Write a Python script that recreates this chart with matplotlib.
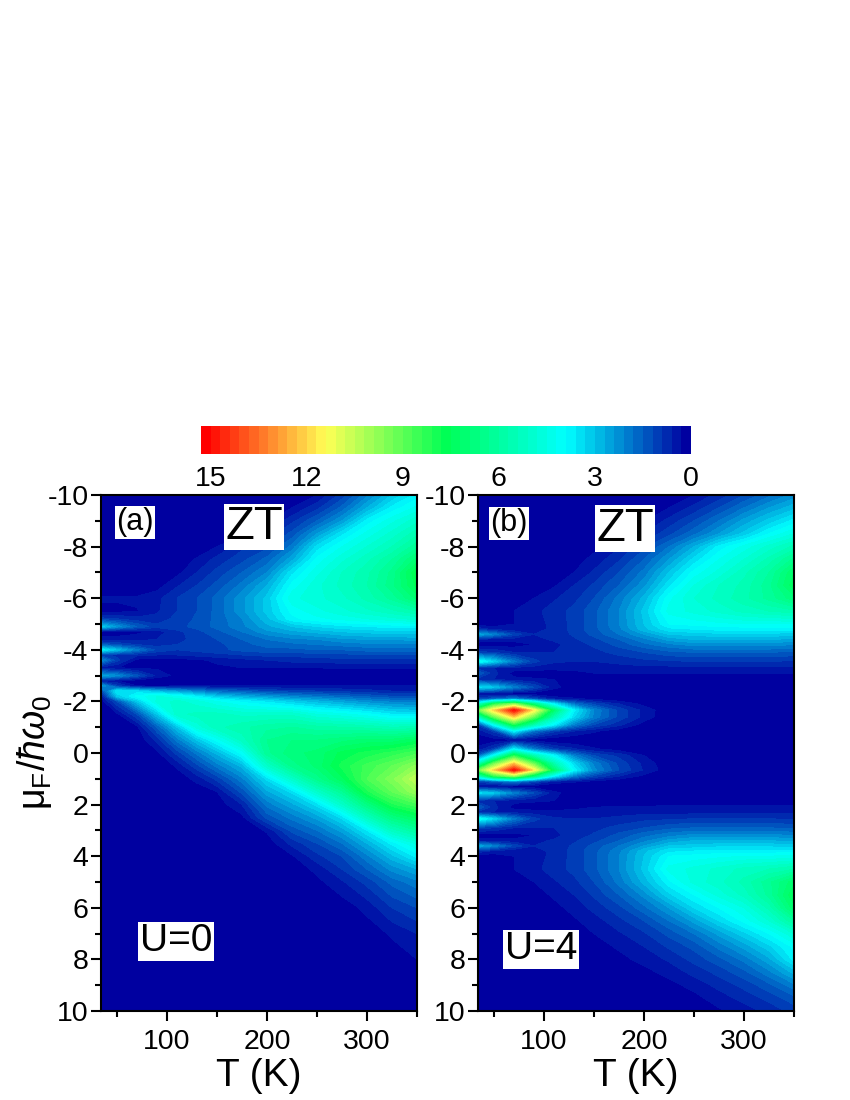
import numpy as np
import matplotlib
matplotlib.use('Agg')
import matplotlib.pyplot as plt
from matplotlib.colors import LinearSegmentedColormap, BoundaryNorm

plt.rcParams['font.family'] = ['Liberation Sans', 'DejaVu Sans']
plt.rcParams['axes.unicode_minus'] = False
plt.rcParams['mathtext.fontset'] = 'custom'
plt.rcParams['mathtext.rm'] = 'Liberation Sans'
plt.rcParams['mathtext.it'] = 'Liberation Sans:italic'

# values
temps = [34, 50, 70, 90, 110, 130, 150, 175, 200, 225, 250, 275, 300, 325, 350]

mu_a = [-10, -9.5, -9, -8.5, -8, -7.5, -7, -6.5, -6, -5.5, -5.2, -4.9, -4.7, -4.4, -4.2, -4, -3.8, -3.6, -3.3, -3,
        -2.8, -2.6, -2.4, -2.2, -2, -1.5, -1, -0.5, 0, 0.5, 1, 1.5, 2, 2.5, 3, 3.5, 4, 4.5, 5, 6, 7, 8, 9, 10]
zt_a = [
    [0, 0, 0, 0, 0, 0, 0, 0, 0, 0, .3, 1.0, 2.0, 3.0, 3.7],
    [0, 0, 0, 0, 0, 0, 0, 0, 0, .3, .8, 1.6, 2.7, 3.7, 4.3],
    [0, 0, 0, 0, 0, 0, 0, 0, .2, .8, 1.5, 2.4, 3.7, 4.4, 5.0],
    [0, 0, 0, 0, 0, 0, 0, .2, .7, 1.3, 2.4, 3.5, 4.3, 4.9, 5.6],
    [0, 0, 0, 0, 0, 0, .3, .8, 1.1, 1.9, 3.4, 4.2, 4.8, 5.4, 6.2],
    [0, 0, 0, 0, 0, .35, .7, 1.1, 1.6, 2.6, 4.0, 4.7, 5.3, 6.0, 7.0],
    [0, 0, 0, 0, .2, .6, 1.0, 1.5, 2.1, 3.5, 4.4, 5.1, 5.6, 6.4, 7.8],
    [0, 0, 0, .15, .55, .9, 1.3, 1.9, 2.7, 4.0, 4.7, 5.2, 5.7, 6.5, 7.6],
    [.35, .35, .35, .5, .9, 1.2, 1.6, 2.3, 3.1, 4.4, 4.7, 5.0, 5.5, 6.1, 7.0],
    [.2, .2, .28, .55, .9, 1.2, 1.6, 2.3, 3.1, 4.0, 4.4, 4.7, 5.0, 5.3, 5.7],
    [1.0, .9, .7, .7, 1.0, 1.25, 1.6, 2.1, 2.9, 3.8, 4.1, 4.3, 4.5, 4.7, 4.9],
    [3.2, 2.3, 1.5, 1.0, 1.1, 1.3, 1.6, 2.0, 2.6, 3.0, 3.3, 3.5, 3.6, 3.7, 3.7],
    [.2, .15, .2, .45, .8, 1.1, 1.4, 1.8, 2.3, 2.6, 2.8, 3.0, 3.1, 3.2, 3.2],
    [.35, .4, .5, .6, .8, 1.0, 1.2, 1.5, 1.8, 2.0, 2.1, 2.3, 2.4, 2.4, 2.5],
    [1.5, 1.2, .9, .8, .9, 1.0, 1.1, 1.4, 1.6, 1.7, 1.8, 1.9, 2.0, 2.0, 2.0],
    [3.8, 2.9, 1.9, 1.1, .9, 1.0, 1.1, 1.3, 1.4, 1.4, 1.5, 1.5, 1.6, 1.6, 1.6],
    [1.0, .8, .7, .6, .6, .7, .8, .9, 1.0, 1.0, 1.1, 1.1, 1.2, 1.2, 1.2],
    [2.2, 1.0, .2, .1, .15, .25, .35, .5, .6, .7, .7, .8, .8, .8, .8],
    [.4, .3, .25, .25, .25, .25, .25, .3, .3, .3, .3, .32, .32, .33, .33],
    [2.6, 2.2, 1.3, .5, .2, .05, .05, .05, .05, .05, .05, .05, .05, .05, .05],
    [.4, .3, .1, 0, 0, 0, 0, 0, 0, 0, 0, 0, 0, 0, 0],
    [2.5, 1.0, .3, .2, .3, .3, .3, .3, .3, .3, .3, .3, .3, .3, .3],
    [1.0, 3.6, 3.4, 2.8, 2.4, 2.0, 1.6, 1.4, 1.1, 1.0, .9, .8, .7, .6, .6],
    [.3, 3.0, 4.0, 4.5, 4.2, 3.6, 3.0, 2.6, 2.3, 2.0, 1.8, 1.6, 1.4, 1.2, 1.2],
    [.1, 1.2, 3.0, 4.6, 4.9, 4.6, 4.2, 3.8, 3.5, 3.1, 2.8, 2.5, 2.2, 2.0, 1.9],
    [0, .2, 1.2, 3.0, 5.0, 5.2, 5.2, 5.0, 5.0, 5.0, 4.5, 4.3, 4.0, 3.6, 3.5],
    [0, 0, .2, 1.5, 3.0, 4.6, 5.3, 5.6, 5.9, 6.0, 5.8, 5.7, 5.6, 5.4, 5.5],
    [0, 0, 0, .7, 1.9, 3.0, 4.0, 5.2, 6.3, 6.6, 6.6, 6.8, 7.0, 7.0, 7.4],
    [0, 0, 0, .2, 1.0, 1.9, 2.8, 4.0, 6.2, 6.8, 7.0, 7.6, 7.9, 8.2, 8.6],
    [0, 0, 0, 0, .35, 1.1, 1.9, 2.8, 5.0, 6.4, 7.0, 7.9, 8.5, 9.0, 9.7],
    [0, 0, 0, 0, .1, .4, 1.0, 2.0, 3.4, 5.0, 6.4, 7.4, 8.7, 9.5, 10.5],
    [0, 0, 0, 0, 0, .1, .3, 1.3, 2.6, 3.4, 5.0, 6.2, 8.0, 9.0, 9.9],
    [0, 0, 0, 0, 0, 0, .1, .6, 1.9, 2.6, 3.4, 5.0, 6.6, 8.0, 8.6],
    [0, 0, 0, 0, 0, 0, 0, .2, 1.3, 1.9, 2.5, 3.4, 5.2, 6.6, 7.3],
    [0, 0, 0, 0, 0, 0, 0, 0, .35, 1.3, 1.8, 2.5, 3.6, 5.2, 6.0],
    [0, 0, 0, 0, 0, 0, 0, 0, .1, .7, 1.2, 1.8, 2.7, 3.7, 4.6],
    [0, 0, 0, 0, 0, 0, 0, 0, 0, .25, .8, 1.2, 2.0, 2.9, 3.7],
    [0, 0, 0, 0, 0, 0, 0, 0, 0, .05, .4, .9, 1.5, 2.2, 2.7],
    [0, 0, 0, 0, 0, 0, 0, 0, 0, 0, .2, .55, 1.0, 1.6, 2.0],
    [0, 0, 0, 0, 0, 0, 0, 0, 0, 0, 0, .1, .4, .9, 1.2],
    [0, 0, 0, 0, 0, 0, 0, 0, 0, 0, 0, 0, .1, .35, .6],
    [0, 0, 0, 0, 0, 0, 0, 0, 0, 0, 0, 0, 0, .1, .3],
    [0, 0, 0, 0, 0, 0, 0, 0, 0, 0, 0, 0, 0, 0, .1],
    [0, 0, 0, 0, 0, 0, 0, 0, 0, 0, 0, 0, 0, 0, 0],
]

mu_b = [-10, -9.5, -9, -8.5, -8, -7.5, -7, -6.5, -6, -5.5, -5, -4.8, -4.6, -4.4, -4.2, -3.9, -3.55, -3.3, -3.1, -2.85,
        -2.55, -2.3, -2.1, -1.9, -1.66, -1.4, -1.1, -.85, -.5, -.15, .1, .4, .66, .9, 1.1, 1.3, 1.55, 1.85, 2.1, 2.3,
        2.55, 2.9, 3.2, 3.4, 3.6, 3.8, 4, 4.5, 5, 5.5, 6, 6.5, 7, 7.5, 8, 8.5, 9, 9.5, 10]
zt_b = [
    [0, 0, 0, 0, 0, 0, 0, 0, 0, 0, .3, .7, 1.2, 1.7, 2.2],
    [0, 0, 0, 0, 0, 0, 0, 0, 0, .3, .7, 1.2, 1.8, 2.4, 2.9],
    [0, 0, 0, 0, 0, 0, 0, 0, .25, .7, 1.2, 1.8, 2.5, 3.1, 3.7],
    [0, 0, 0, 0, 0, 0, 0, .2, .6, 1.1, 1.7, 2.4, 3.1, 3.9, 4.5],
    [0, 0, 0, 0, 0, 0, .2, .55, 1.1, 1.8, 2.7, 3.7, 4.3, 4.9, 5.5],
    [0, 0, 0, 0, 0, .15, .4, .85, 1.5, 2.4, 3.4, 4.2, 4.8, 5.5, 6.4],
    [0, 0, 0, 0, .1, .3, .65, 1.2, 1.9, 3.0, 4.0, 4.6, 5.3, 6.0, 7.2],
    [0, 0, 0, .1, .25, .6, .95, 1.5, 2.3, 3.5, 4.5, 5.1, 5.5, 6.2, 7.4],
    [0, 0, .1, .3, .55, .8, 1.2, 1.9, 2.8, 4.1, 4.8, 5.2, 5.6, 6.1, 6.8],
    [0, 0, .3, .5, .75, 1.0, 1.4, 2.1, 3.1, 4.3, 4.6, 4.9, 5.2, 5.4, 5.6],
    [.1, .1, .3, .45, .7, 1.0, 1.4, 2.1, 3.0, 3.9, 4.0, 4.1, 4.2, 4.2, 4.2],
    [.8, .5, .35, .45, .7, 1.0, 1.4, 2.0, 2.9, 3.5, 3.6, 3.7, 3.7, 3.7, 3.7],
    [2.6, 2.0, 1.1, .6, .7, .95, 1.3, 1.8, 2.4, 3.0, 3.1, 3.2, 3.2, 3.2, 3.1],
    [.5, .4, .4, .5, .65, .85, 1.1, 1.5, 2.0, 2.5, 2.7, 2.7, 2.7, 2.7, 2.6],
    [.1, .1, .15, .3, .5, .75, .95, 1.3, 1.7, 2.0, 2.2, 2.2, 2.2, 2.2, 2.1],
    [1.0, .9, .6, .6, .6, .7, .8, 1.0, 1.2, 1.4, 1.5, 1.5, 1.5, 1.5, 1.4],
    [4.2, 3.2, 1.9, 1.0, .65, .6, .6, .7, .8, .85, .9, .9, .9, .9, .85],
    [.7, .6, .5, .45, .4, .4, .4, .45, .5, .5, .5, .55, .55, .55, .55],
    [1.5, .7, .15, .1, .15, .2, .3, .32, .35, .35, .35, .35, .35, .35, .35],
    [.7, .6, .4, .35, .3, .25, .1, .05, 0, 0, 0, 0, 0, 0, 0],
    [3.4, 3.0, 2.0, 1.2, .4, .1, 0, 0, 0, 0, 0, 0, 0, 0, 0],
    [.3, .2, .1, .05, 0, 0, 0, 0, 0, 0, 0, 0, 0, 0, 0],
    [1.0, 1.5, 2.0, 1.2, .5, .35, .2, .05, 0, 0, 0, 0, 0, 0, 0],
    [4.8, 8.0, 9.5, 6.5, 3.6, 1.8, 1.1, .6, .2, 0, 0, 0, 0, 0, 0],
    [9.0, 12.0, 15.0, 11.5, 7.0, 3.7, 2.1, 1.1, .5, .05, 0, 0, 0, 0, 0],
    [5.0, 9.0, 12.0, 9.0, 5.5, 3.3, 2.0, 1.1, .5, 0, 0, 0, 0, 0, 0],
    [1.0, 4.0, 8.0, 5.5, 3.7, 2.0, 1.2, .7, .15, 0, 0, 0, 0, 0, 0],
    [.4, 1.0, 3.7, 1.8, 1.0, .6, .35, .1, 0, 0, 0, 0, 0, 0, 0],
    [.1, .1, .15, .1, 0, 0, 0, 0, 0, 0, 0, 0, 0, 0, 0],
    [.4, 1.0, 3.7, 1.9, 1.0, .65, .35, .15, 0, 0, 0, 0, 0, 0, 0],
    [1.5, 4.0, 8.0, 5.5, 3.8, 2.0, 1.2, .8, .3, 0, 0, 0, 0, 0, 0],
    [5.0, 9.0, 12.0, 9.0, 5.5, 3.3, 2.0, 1.1, .5, .05, 0, 0, 0, 0, 0],
    [9.0, 12.0, 15.0, 11.5, 7.0, 3.8, 2.2, 1.2, .55, .1, 0, 0, 0, 0, 0],
    [4.8, 8.0, 9.5, 6.5, 3.6, 1.9, 1.1, .6, .2, 0, 0, 0, 0, 0, 0],
    [1.0, 1.5, 2.0, 1.2, .5, .35, .2, .05, 0, 0, 0, 0, 0, 0, 0],
    [.3, .2, .1, .05, 0, 0, 0, 0, 0, 0, 0, 0, 0, 0, 0],
    [3.4, 3.0, 2.0, 1.2, .4, .1, 0, 0, 0, 0, 0, 0, 0, 0, 0],
    [.7, .6, .4, .35, .3, .25, .15, .1, .05, .1, .1, .15, .15, .15, .15],
    [1.5, .7, .15, .1, .15, .2, .3, .32, .35, .35, .35, .35, .35, .35, .35],
    [.7, .6, .5, .45, .4, .4, .4, .45, .5, .5, .5, .55, .55, .55, .55],
    [4.2, 3.2, 1.9, 1.0, .65, .6, .6, .7, .8, .85, .9, .9, .9, .9, .85],
    [1.0, .9, .6, .6, .6, .7, .8, 1.0, 1.2, 1.4, 1.5, 1.5, 1.5, 1.5, 1.4],
    [.1, .1, .15, .3, .5, .75, .95, 1.3, 1.7, 2.0, 2.2, 2.2, 2.2, 2.2, 2.1],
    [.5, .4, .4, .5, .65, .85, 1.1, 1.5, 2.0, 2.5, 2.7, 2.7, 2.7, 2.7, 2.6],
    [2.6, 2.0, 1.1, .6, .7, .95, 1.3, 1.8, 2.4, 3.0, 3.1, 3.2, 3.2, 3.2, 3.1],
    [.8, .5, .35, .45, .7, 1.0, 1.4, 2.0, 2.9, 3.5, 3.6, 3.7, 3.7, 3.7, 3.7],
    [.1, .1, .3, .45, .7, 1.0, 1.4, 2.1, 3.0, 3.9, 4.0, 4.1, 4.2, 4.2, 4.3],
    [0, 0, .3, .5, .75, 1.0, 1.4, 2.1, 3.1, 4.3, 4.6, 4.9, 5.2, 5.4, 5.7],
    [0, 0, .1, .3, .55, .8, 1.2, 1.9, 2.8, 3.8, 4.6, 5.0, 5.5, 6.2, 7.1],
    [0, 0, 0, .15, .35, .6, .95, 1.5, 2.2, 3.2, 3.9, 4.6, 5.2, 6.1, 7.5],
    [0, 0, 0, .05, .2, .4, .7, 1.1, 1.7, 2.4, 3.3, 3.9, 4.5, 5.5, 7.1],
    [0, 0, 0, 0, .1, .25, .45, .8, 1.2, 1.8, 2.5, 3.3, 4.0, 4.8, 6.0],
    [0, 0, 0, 0, 0, .1, .3, .55, .85, 1.3, 1.8, 2.5, 3.2, 3.9, 4.8],
    [0, 0, 0, 0, 0, 0, .15, .35, .6, .95, 1.3, 1.9, 2.5, 3.2, 4.0],
    [0, 0, 0, 0, 0, 0, 0, .2, .4, .65, 1.0, 1.4, 1.9, 2.6, 3.7],
    [0, 0, 0, 0, 0, 0, 0, .05, .2, .4, .7, 1.0, 1.4, 2.0, 2.8],
    [0, 0, 0, 0, 0, 0, 0, 0, .1, .2, .4, .7, 1.0, 1.4, 2.0],
    [0, 0, 0, 0, 0, 0, 0, 0, 0, .05, .2, .45, .7, 1.0, 1.4],
    [0, 0, 0, 0, 0, 0, 0, 0, 0, 0, .05, .25, .45, .7, 1.0],
]

t_ticks = [100, 200, 300]
mu_ticks = [-10, -8, -6, -4, -2, 0, 2, 4, 6, 8, 10]
bar_ticks = [15, 12, 9, 6, 3, 0]

levels = np.arange(0, 15.31, 0.3)
colors = ['#0000A0', '#00FFFF', '#00FF55', '#FFFF55', '#FF0000']
cmap = LinearSegmentedColormap.from_list('zt', colors, N=len(levels) - 1)
norm = BoundaryNorm(levels, cmap.N)

W, H = 850, 1100
fig = plt.figure(figsize=(W / 100, H / 100), dpi=100)
ax_a = fig.add_axes([101 / W, 1 - 1011 / H, 316 / W, 516 / H])
ax_b = fig.add_axes([478 / W, 1 - 1011 / H, 316 / W, 516 / H])
cax = fig.add_axes([201 / W, 1 - 454 / H, 490 / W, 28 / H])


def draw_panel(ax, mu, zt):
    cs = ax.contourf(temps, mu, np.array(zt), levels=levels, cmap=cmap, norm=norm)
    ax.set_facecolor('#0000A0')
    ax.set_xlim(34, 350)
    ax.set_ylim(10, -10)
    ax.set_xticks(t_ticks)
    ax.set_xticks([50, 150, 250, 350], minor=True)
    ax.set_yticks(mu_ticks)
    ax.set_yticks(np.arange(-9, 10, 2), minor=True)
    ax.tick_params(which='major', direction='out', length=7, width=1.5, labelsize=20.5)
    ax.tick_params(which='minor', direction='out', length=4, width=1.5)
    ax.tick_params(axis='x', which='major', pad=6)
    ax.tick_params(axis='y', which='major', pad=2)
    ax.set_xlabel('T (K)', fontsize=28, labelpad=2)
    for s in ax.spines.values():
        s.set_linewidth(1.5)
    return cs


cs = draw_panel(ax_a, mu_a, zt_a)
draw_panel(ax_b, mu_b, zt_b)

box = dict(facecolor='white', edgecolor='none', pad=1)
ax_a.text(187, -8.76, 'ZT', fontsize=34, ha='center', va='center', bbox=box)
ax_a.text(68, -8.95, '(a)', fontsize=22, ha='center', va='center', bbox=box)
ax_a.text(109, 7.3, 'U=0', fontsize=28, ha='center', va='center', bbox=box)
ax_b.text(181, -8.7, 'ZT', fontsize=34, ha='center', va='center', bbox=box)
ax_b.text(65, -8.9, '(b)', fontsize=22, ha='center', va='center', bbox=box)
ax_b.text(97, 7.6, 'U=4', fontsize=28, ha='center', va='center', bbox=box)

fig.text(35 / W, 1 - 752 / H, r'$\mathrm{\mu_F}/\hbar\omega_0$', fontsize=27,
         rotation=90, ha='center', va='center')

cb = fig.colorbar(cs, cax=cax, orientation='horizontal', ticks=bar_ticks, spacing='proportional')
cax.invert_xaxis()
cb.outline.set_visible(False)
cb.dividers.set_visible(False)
cax.minorticks_off()
cax.tick_params(length=0, labelsize=20.5, pad=9)

fig.savefig('out.png', dpi=100)
